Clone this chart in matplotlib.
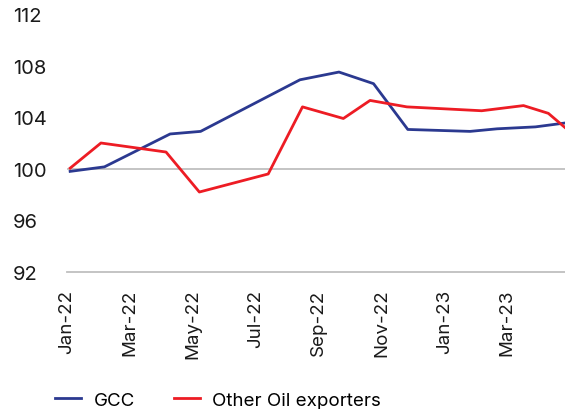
import matplotlib
matplotlib.use("Agg")
import matplotlib.pyplot as plt

plt.rcParams['font.family'] = ['Inter', 'DejaVu Sans']

# x = months since Jan-22 (points are not on month starts)
gcc_x = [0.10, 1.19, 3.28, 4.25, 7.41, 8.65, 9.75, 10.84, 12.82, 13.68, 14.90, 15.84]
gcc_y = [99.8, 100.15, 102.7, 102.9, 106.9, 107.5, 106.6, 103.05, 102.9, 103.1, 103.25, 103.55]

oil_x = [0.10, 1.08, 3.15, 4.21, 6.40, 7.49, 8.79, 9.64, 10.81, 13.19, 14.52, 15.31, 15.84]
oil_y = [100.05, 102.0, 101.3, 98.2, 99.6, 104.8, 103.9, 105.3, 104.8, 104.5, 104.9, 104.3, 103.2]

tick_pos = [0, 2, 4, 6, 8, 10, 12, 14]
tick_labels = ["Jan-22", "Mar-22", "May-22", "Jul-22", "Sep-22", "Nov-22", "Jan-23", "Mar-23"]
y_ticks = [92, 96, 100, 104, 108, 112]

fig = plt.figure(figsize=(5.65, 4.10), dpi=100)
ax = fig.add_axes([67 / 565, 137 / 410, 498 / 565, 258 / 410])

ax.axhline(100, color="#bfbfbf", lw=1.3, zorder=1)
ax.plot(gcc_x, gcc_y, color="#2b3990", lw=2.0, label="GCC", zorder=3)
ax.plot(oil_x, oil_y, color="#ed1c24", lw=2.0, label="Other Oil exporters", zorder=4)

ax.set_xlim(0, 15.84)
ax.set_ylim(92, 112)
ax.set_yticks(y_ticks)
ax.set_yticklabels([str(v) for v in y_ticks], ha="left")
ax.set_xticks(tick_pos)
ax.set_xticklabels(tick_labels, rotation=90)
ax.tick_params(axis="y", length=0, pad=39, labelsize=14.5, colors="#1a1a1a")
ax.tick_params(axis="x", length=0, pad=12, labelsize=13.5, colors="#1a1a1a")

for s in ["top", "right", "left"]:
    ax.spines[s].set_visible(False)
ax.spines["bottom"].set_color("#bfbfbf")
ax.spines["bottom"].set_linewidth(1.3)

fig.legend(loc="center left", bbox_to_anchor=(55 / 565, 1 - 401 / 410), ncol=2,
           frameon=False, fontsize=13.5, borderpad=0, borderaxespad=0,
           handlelength=1.4, handletextpad=0.65, columnspacing=2.1)

fig.savefig("out.png", dpi=100)
